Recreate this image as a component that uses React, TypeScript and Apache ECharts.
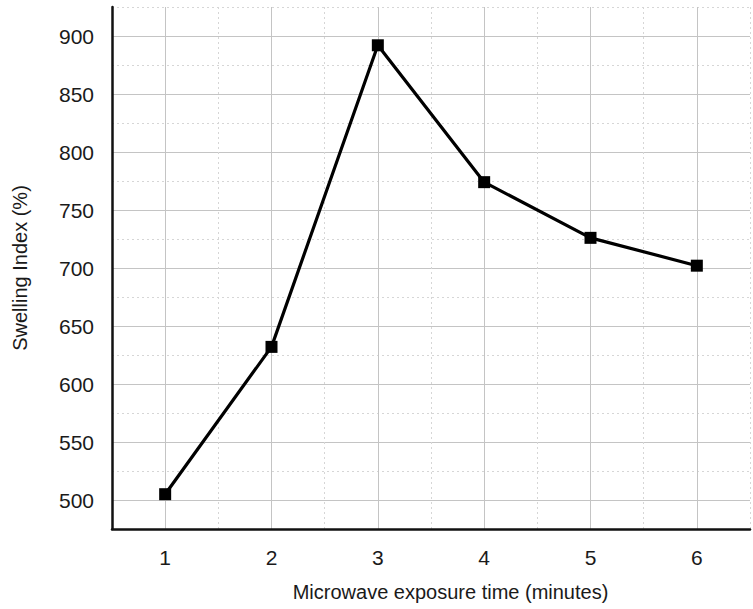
import React, { useEffect, useRef } from "react";
import * as echarts from "echarts";

const times = [1, 2, 3, 4, 5, 6];
const swelling = [505, 632, 892, 774, 726, 702];
const xName = "Microwave exposure time (minutes)";
const yName = "Swelling Index (%)";

export default function App() {
  const ref = useRef<HTMLDivElement>(null);
  useEffect(() => {
    if (!ref.current) return;
    const chart = echarts.init(ref.current, null, { renderer: "svg" });
    const font = "Liberation Sans, Arial, sans-serif";
    const solidX = { show: true, lineStyle: { color: ["rgba(0,0,0,0)", "#c4c4c4"], width: 1, type: "solid" } };
    const dashX = { show: true, lineStyle: { color: ["#d6d6d6", "rgba(0,0,0,0)"], width: 1, type: [2, 3] } };
    chart.setOption({
      animation: false,
      grid: { left: 112, top: 7, right: -5, bottom: 80, containLabel: false },
      xAxis: [
        {
          type: "value", min: 0.5, max: 6.5, interval: 0.5,
          name: xName, nameLocation: "middle", nameGap: 53,
          nameTextStyle: { fontFamily: font, fontSize: 20, color: "#1a1a1a", padding: [0, 0, 0, 39] },
          axisLine: { show: true, onZero: false, lineStyle: { color: "#111", width: 2.5 } },
          axisTick: { show: false },
          axisLabel: {
            fontFamily: font, fontSize: 21, color: "#1a1a1a", margin: 18,
            formatter: (v: number) => (Number.isInteger(v) ? String(v) : ""),
          },
          splitLine: solidX,
        },
        {
          type: "value", min: 0.5, max: 6.5, interval: 0.5, position: "bottom",
          axisLine: { show: false }, axisTick: { show: false }, axisLabel: { show: false },
          splitLine: dashX,
        },
      ],
      yAxis: [
        {
          type: "value", min: 475, max: 925, interval: 25,
          name: yName, nameLocation: "middle", nameGap: 82, nameRotate: 90,
          nameTextStyle: { fontFamily: font, fontSize: 20, color: "#1a1a1a" },
          axisLine: { show: true, onZero: false, lineStyle: { color: "#111", width: 2.5 } },
          axisTick: { show: false },
          axisLabel: {
            fontFamily: font, fontSize: 21, color: "#1a1a1a", margin: 18,
            formatter: (v: number) => (v % 50 === 0 ? String(v) : ""),
          },
          splitLine: solidX,
        },
        {
          type: "value", min: 475, max: 925, interval: 25, position: "left",
          axisLine: { show: false }, axisTick: { show: false }, axisLabel: { show: false },
          splitLine: dashX,
        },
      ],
      series: [
        {
          type: "line",
          xAxisIndex: 0, yAxisIndex: 0,
          data: times.map((t, i) => [t, swelling[i]]),
          symbol: "rect", symbolSize: 12,
          itemStyle: { color: "#000" },
          lineStyle: { color: "#000", width: 3.2 },
          z: 5,
        },
      ],
    });
    return () => chart.dispose();
  }, []);
  return <div ref={ref} style={{ width: 753, height: 609, position: "absolute", left: 0, top: 0, background: "#fff" }} />;
}
